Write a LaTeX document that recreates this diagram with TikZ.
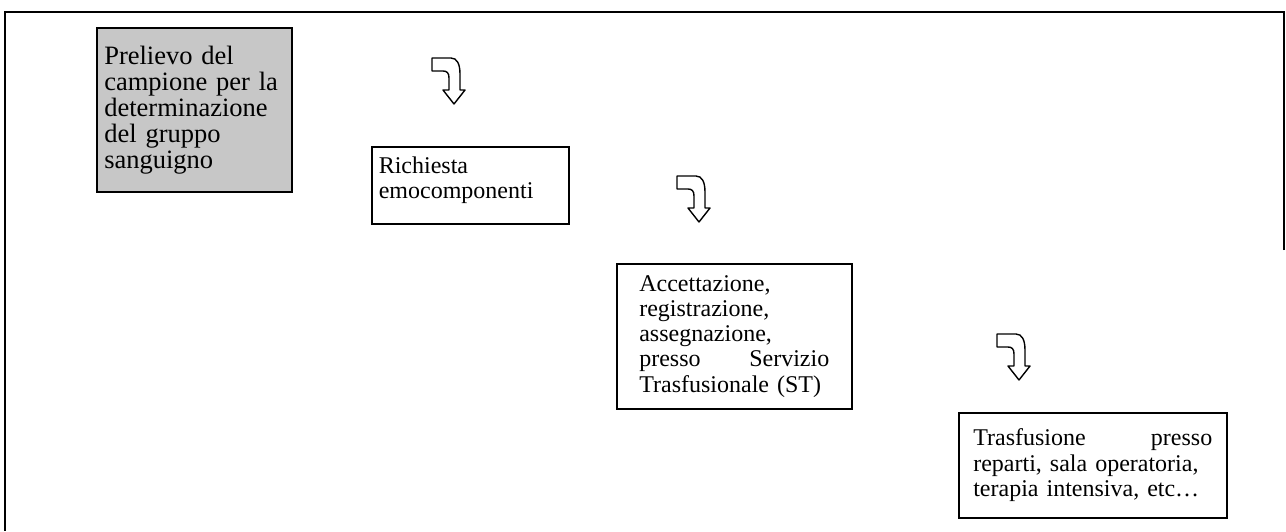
\documentclass[tikz,border=0pt]{standalone}
\usepackage{fontspec}
\setmainfont{Liberation Serif}

\begin{document}
\begin{tikzpicture}[
  x=1pt, y=-1pt,
  stepbox/.style={draw, line width=1.6pt, anchor=north west, align=left, inner ysep=0pt, font=\fontsize{24}{25.3}\selectfont},
  bentarrow/.pic={
    \draw[line width=1.4pt, line join=round, fill=white]
      (0,0) -- (19,0) .. controls (25,0) and (28,6) .. (28,16) -- (28,32)
      -- (33,32) -- (22,46) -- (11,32) -- (17,32) -- (17,20)
      .. controls (17,15) and (15,13) .. (11,13) -- (0,13) -- cycle;
  }
]
  \useasboundingbox (0,0) rectangle (1286,531);
  % outer frame
  \draw[line width=1.4pt] (1284,250) -- (1284,12) -- (5,12) -- (5,531);

  \node[stepbox, fill=black!22, text width=180pt, inner xsep=7.5pt, minimum height=164pt,
        font=\fontsize{26.5}{26}\selectfont] (prelievo) at (96,27)
    {Prelievo del\\campione per la\\determinazione\\del gruppo\\sanguigno};
  \node[stepbox, text width=183pt, inner xsep=7pt, minimum height=77pt, text depth=40pt] (richiesta) at (371,146)
    {Richiesta\\emocomponenti};
  \node[stepbox, text width=190pt, inner xsep=22.5pt, minimum height=145pt] (accettazione) at (616,263)
    {Accettazione,\\registrazione,\\assegnazione,\\presso\hfill Servizio\\Trasfusionale (ST)};
  \node[stepbox, text width=239pt, inner xsep=14.5pt, minimum height=105pt] (trasfusione) at (958,412)
    {Trasfusione\hfill presso\\reparti, sala operatoria,\\terapia intensiva, etc…};

  % curved block arrows
  \pic at (432,58) {bentarrow};
  \pic at (677,176) {bentarrow};
  \pic at (997,334) {bentarrow};
\end{tikzpicture}
\end{document}
